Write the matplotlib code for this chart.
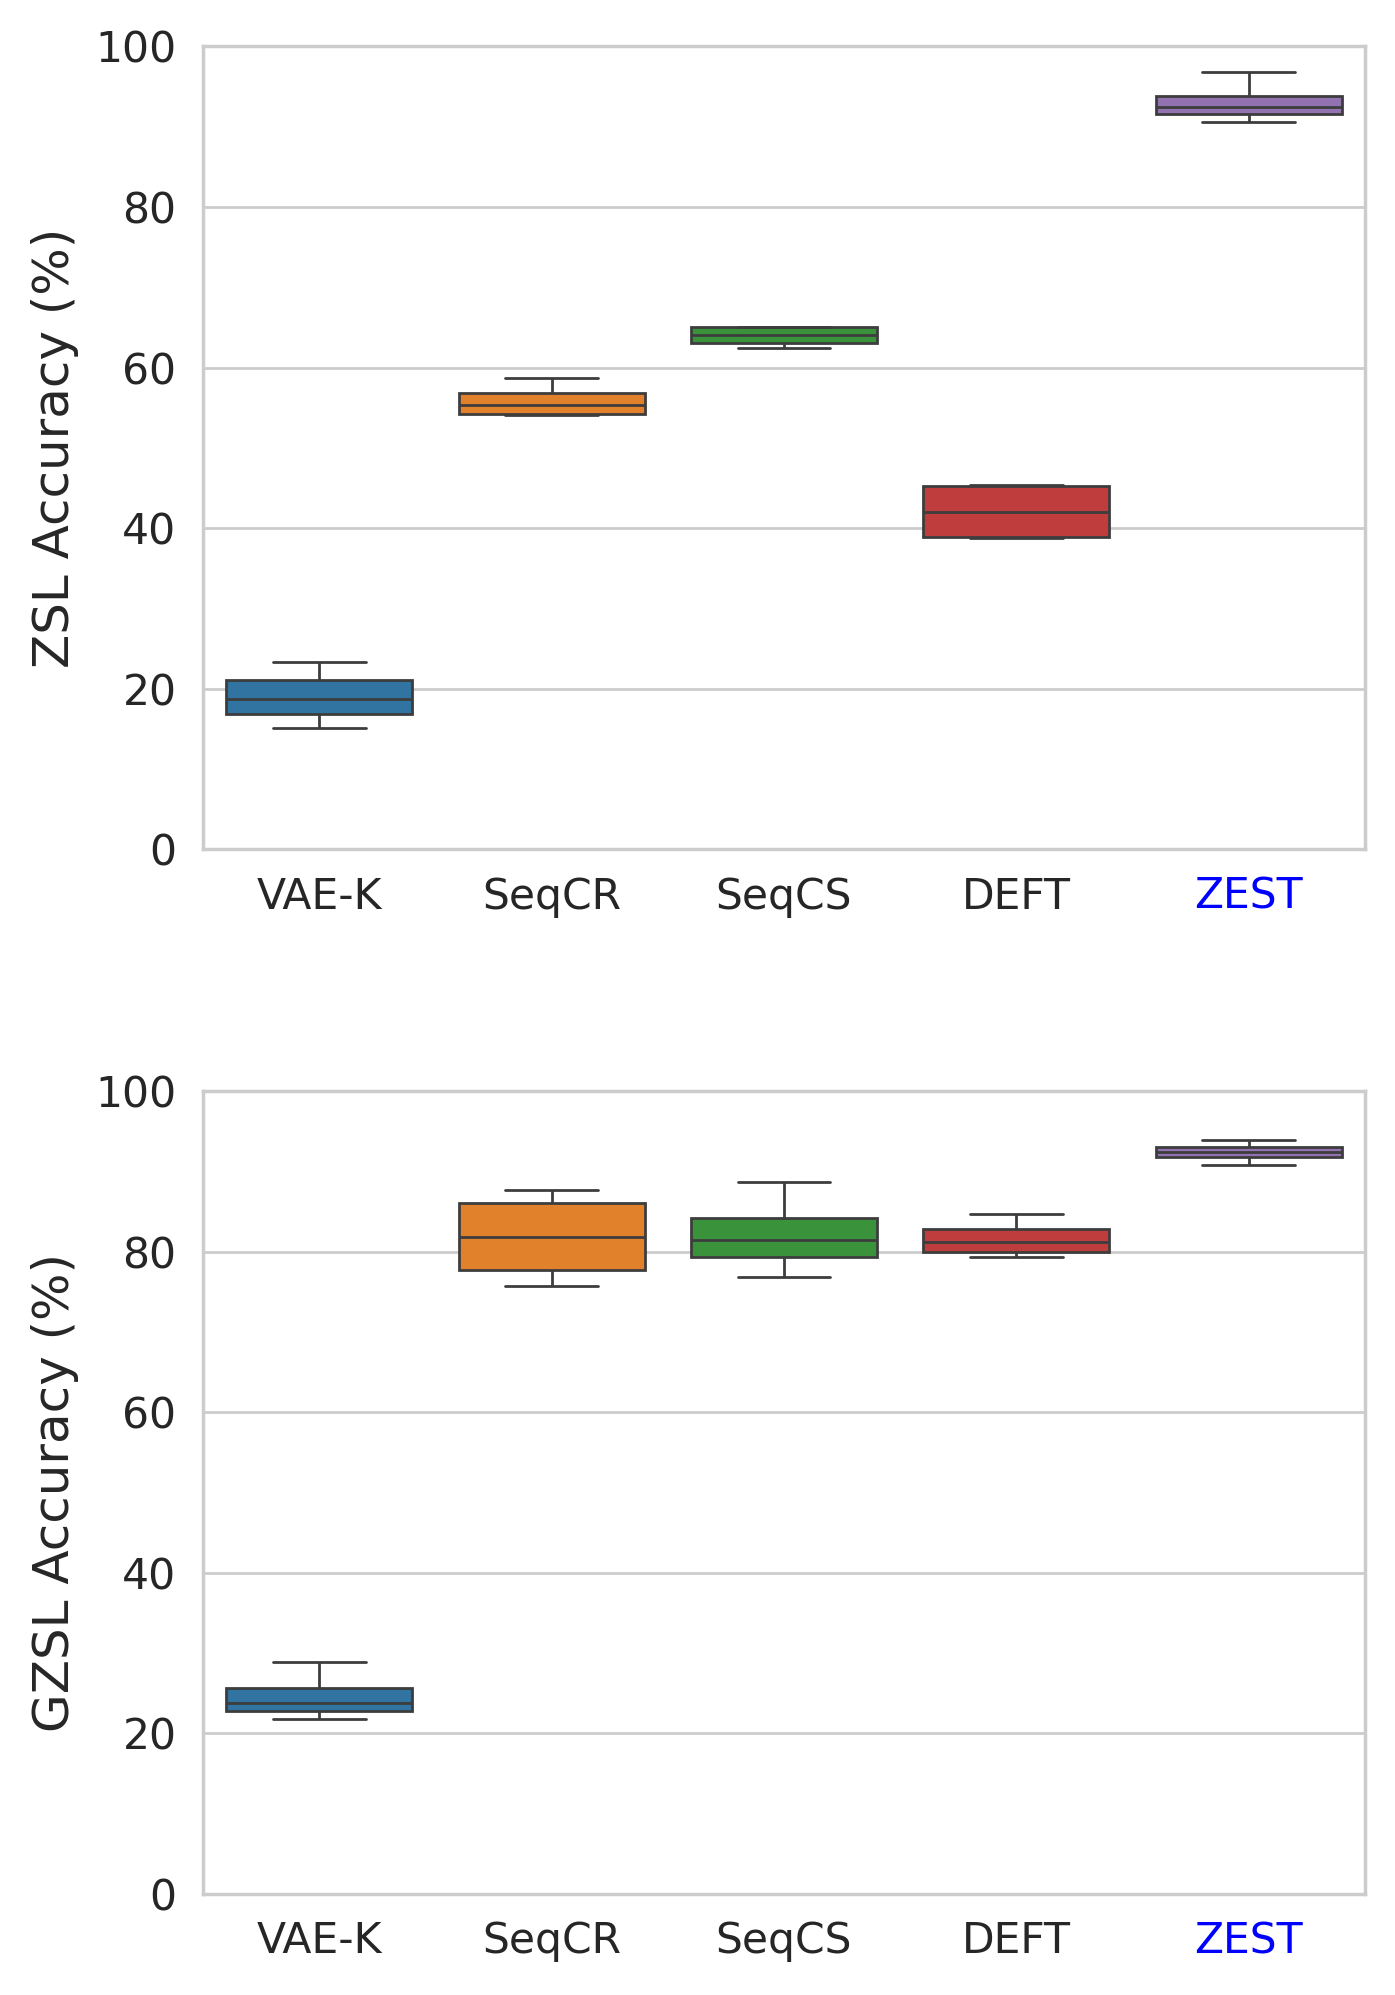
import matplotlib
matplotlib.use("Agg")
import matplotlib.pyplot as plt
import seaborn as sns
import pandas as pd

methods = ["VAE-K", "SeqCR", "SeqCS", "DEFT", "ZEST"]

# five values per method: [min, q1, median, q3, max]
zsl_vae_k = [15.1, 16.9, 18.8, 21.05, 23.4]
zsl_seqcr = [54.1, 54.2, 55.35, 56.8, 58.75]
zsl_seqcs = [62.5, 63.1, 64.05, 65.05, 65.05]
zsl_deft = [38.75, 38.9, 42.0, 45.25, 45.45]
zsl_zest = [90.55, 91.65, 92.45, 93.8, 96.85]

gzsl_vae_k = [21.75, 22.75, 23.8, 25.6, 28.9]
gzsl_seqcr = [75.7, 77.7, 81.85, 86.05, 87.65]
gzsl_seqcs = [76.85, 79.3, 81.4, 84.2, 88.65]
gzsl_deft = [79.3, 80.0, 81.2, 82.85, 84.7]
gzsl_zest = [90.8, 91.8, 92.4, 93.05, 93.85]

zsl_values = [zsl_vae_k, zsl_seqcr, zsl_seqcs, zsl_deft, zsl_zest]
gzsl_values = [gzsl_vae_k, gzsl_seqcr, gzsl_seqcs, gzsl_deft, gzsl_zest]

y_ticks = [0, 20, 40, 60, 80, 100]


def make_df(values):
    rows = []
    for m, vals in zip(methods, values):
        for v in vals:
            rows.append({"Method": m, "Accuracy": v})
    return pd.DataFrame(rows)


sns.set_theme(style="whitegrid")
plt.rcParams["font.family"] = ["DejaVu Sans"]

fig = plt.figure(figsize=(6.975, 9.975), dpi=200)
ax1 = fig.add_axes([0.1455, 0.5742, 0.8330, 0.4025])
ax2 = fig.add_axes([0.1455, 0.0506, 0.8330, 0.4025])

palette = sns.color_palette("tab10", 5)

for ax, values, label in [(ax1, zsl_values, "ZSL Accuracy (%)"),
                          (ax2, gzsl_values, "GZSL Accuracy (%)")]:
    df = make_df(values)
    sns.boxplot(data=df, x="Method", y="Accuracy", hue="Method",
                palette=palette, order=methods, hue_order=methods,
                legend=False, ax=ax, width=0.8)
    ax.set_ylim(0, 100)
    ax.set_yticks(y_ticks)
    ax.set_xlabel("")
    ax.set_ylabel(label, fontsize=18, labelpad=6)
    ax.tick_params(axis="both", labelsize=15.3)
    for tl in ax.get_xticklabels():
        if tl.get_text() == "ZEST":
            tl.set_color("blue")
    for sp in ax.spines.values():
        sp.set_color("#cccccc")
        sp.set_visible(True)

fig.savefig("out.png", dpi=200)
